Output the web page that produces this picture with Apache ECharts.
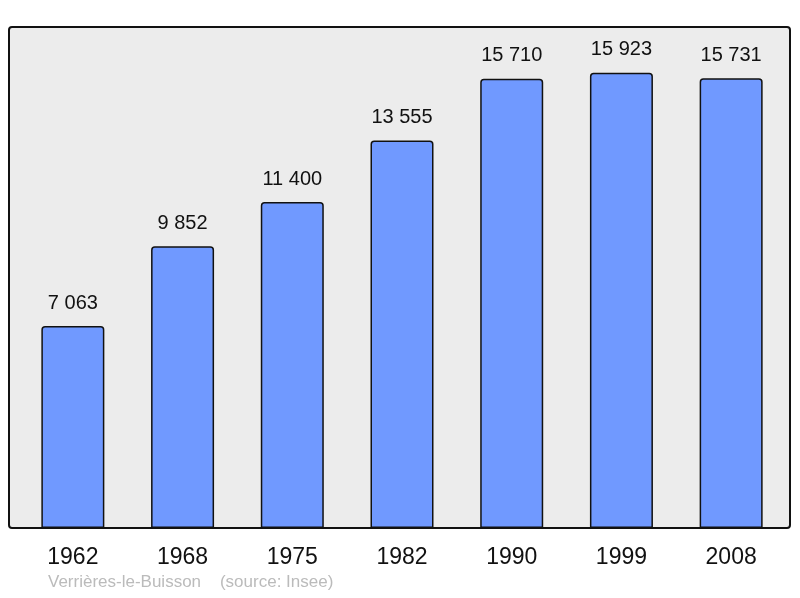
<!DOCTYPE html>
<html>
<head>
<meta charset="utf-8">
<script src="https://cdn.jsdelivr.net/npm/echarts@6/dist/echarts.min.js"></script>
<style>
  html, body { margin: 0; padding: 0; background: #fff; }
  #chart { width: 800px; height: 598px; }
</style>
</head>
<body>
<div id="chart"></div>
<script>
const years = ['1962', '1968', '1975', '1982', '1990', '1999', '2008']
const population = [7063, 9852, 11400, 13555, 15710, 15923, 15731]
const sourceText = 'Verrières-le-Buisson    (source: Insee)'

function fmt(v) {
    return String(v).replace(/\B(?=(\d{3})+(?!\d))/g, ' ')
}

const chart = echarts.init(document.getElementById('chart'))

chart.setOption({
    animation: false,
    backgroundColor: '#fff',
    grid: { left: 18, right: 14, top: 27, bottom: 70 },
    graphic: [
        {
            type: 'rect',
            z: -10,
            silent: true,
            shape: { x: 9, y: 27, width: 781, height: 501, r: 3 },
            style: { fill: '#ececec', stroke: '#111', lineWidth: 2 }
        },
        {
            type: 'text',
            left: 48,
            top: 574,
            style: { text: sourceText, fill: '#bbbbbb', font: '17px "Liberation Sans", Arial, sans-serif' }
        }
    ],
    xAxis: {
        type: 'category',
        data: years,
        axisLine: { show: false },
        axisTick: { show: false },
        axisLabel: {
            margin: 18,
            color: '#111',
            fontSize: 23,
            fontFamily: '"Liberation Sans", Arial, sans-serif'
        }
    },
    yAxis: {
        type: 'value',
        min: 0,
        max: 17520,
        show: false,
        splitLine: { show: false }
    },
    series: [{
        type: 'bar',
        data: population,
        barWidth: 63,
        itemStyle: {
            color: '#7099ff',
            borderColor: '#111',
            borderWidth: 1.5,
            borderRadius: [3, 3, 0, 0]
        },
        label: {
            show: true,
            position: 'top',
            distance: 13,
            color: '#111',
            fontSize: 20,
            fontFamily: '"Liberation Sans", Arial, sans-serif',
            formatter: p => fmt(p.value)
        }
    }]
})
</script>
</body>
</html>
